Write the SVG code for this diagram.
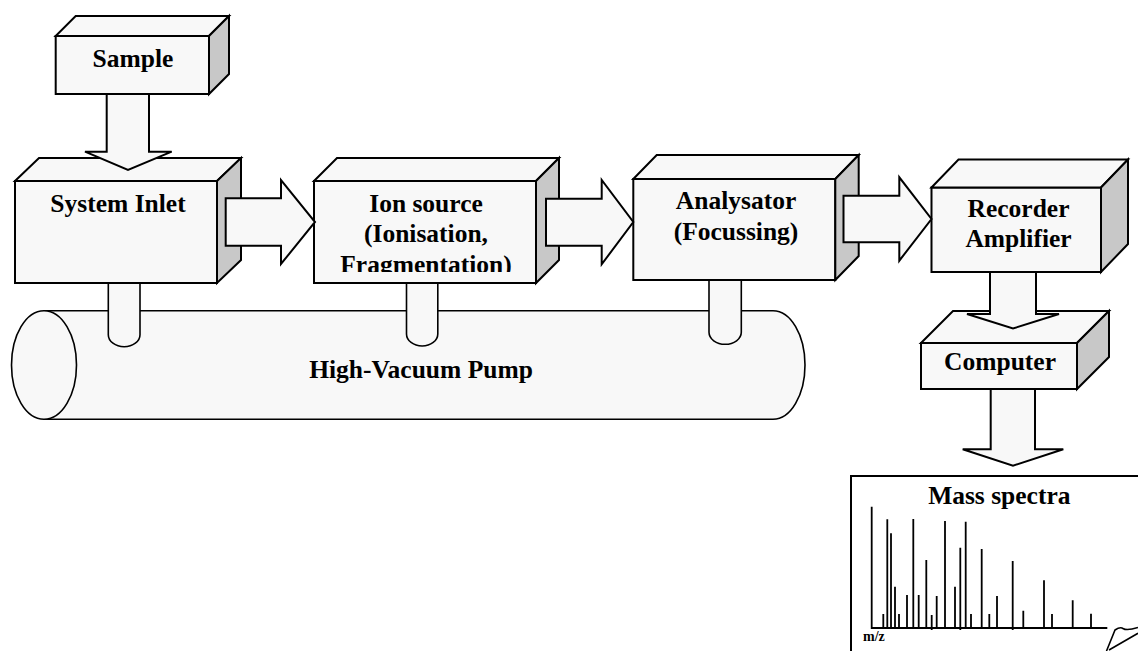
<svg xmlns="http://www.w3.org/2000/svg" width="1138" height="651" viewBox="0 0 1138 651">
<style>
.front{fill:#f8f8f8;stroke:#000;stroke-width:2;stroke-linejoin:miter}
.top{fill:#f8f8f8;stroke:#000;stroke-width:2}
.side{fill:#c8c8c8;stroke:#000;stroke-width:2}
.arrow{fill:#f8f8f8;stroke:#000;stroke-width:2;stroke-linejoin:miter}
.pipe{fill:#f8f8f8;stroke:#000;stroke-width:1.6}
.lbl{font-family:"Liberation Serif","Times New Roman",serif;font-weight:bold;font-size:25.5px;fill:#000;text-anchor:middle}
.peaks{fill:none;stroke:#000;stroke-width:1.8}
</style>
<defs>
<clipPath id="ionclip"><rect x="314" y="181" width="222" height="91"/></clipPath>
</defs>
<rect width="1138" height="651" fill="#fff"/>

<g id="pump">
<path class="pipe" d="M44,310.7 L773,310.7 A32,54.3 0 0 1 773,419.3 L44,419.3 Z"/>
<ellipse class="pipe" cx="44" cy="365" rx="32.5" ry="54.3"/>
<text class="lbl" x="421" y="378">High-Vacuum Pump</text>
</g>

<g id="pipes">
<path class="pipe" d="M108.3,278 V334.7 A15.85,12 0 0 0 140,334.7 V278"/>
<path class="pipe" d="M406.5,278 V334 A15.65,12 0 0 0 437.8,334 V278"/>
<path class="pipe" d="M709,275 V332.3 A16.15,12 0 0 0 741.3,332.3 V275"/>
</g>

<g id="sample">
<rect class="front" x="55.7" y="36" width="153.3" height="58"/>
<polygon class="top" points="55.7,36 75.7,16 229,16 209,36"/>
<polygon class="side" points="209,36 229,16 229,74 209,94"/>
<text class="lbl" x="133" y="67">Sample</text>
</g>

<g id="system-inlet">
<rect class="front" x="15" y="181" width="202" height="102"/>
<polygon class="top" points="15,181 39,158 241,158 217,181"/>
<polygon class="side" points="217,181 241,158 241,260 217,283"/>
<text class="lbl" x="118" y="212">System Inlet</text>
</g>

<g id="ion-source">
<rect class="front" x="314" y="181" width="222" height="102"/>
<polygon class="top" points="314,181 337,158 559,158 536,181"/>
<polygon class="side" points="536,181 559,158 559,260 536,283"/>
<g clip-path="url(#ionclip)">
<text class="lbl" x="426" y="211.7">Ion source</text>
<text class="lbl" x="426" y="241.7">(Ionisation,</text>
<text class="lbl" x="426" y="273">Fragmentation)</text>
</g>
</g>

<g id="analysator">
<rect class="front" x="633.3" y="179" width="202" height="101"/>
<polygon class="top" points="633.3,179 656.7,155 858.7,155 835.3,179"/>
<polygon class="side" points="835.3,179 858.7,155 858.7,256 835.3,280"/>
<text class="lbl" x="736" y="209">Analysator</text>
<text class="lbl" x="736" y="240">(Focussing)</text>
</g>

<g id="recorder-amplifier">
<rect class="front" x="931.5" y="187.5" width="169.5" height="84.5"/>
<polygon class="top" points="931.5,187.5 958.5,159.5 1128,159.5 1101,187.5"/>
<polygon class="side" points="1101,187.5 1128,159.5 1128,244 1101,272"/>
<text class="lbl" x="1018.5" y="217.3">Recorder</text>
<text class="lbl" x="1018.5" y="246.7">Amplifier</text>
</g>

<g id="computer">
<rect class="front" x="921" y="343" width="156" height="46"/>
<polygon class="top" points="921,343 953,311 1109,311 1077,343"/>
<polygon class="side" points="1077,343 1109,311 1109,357 1077,389"/>
<text class="lbl" x="1000" y="370">Computer</text>
</g>

<g id="mass-spectra">
<rect x="851" y="476" width="300" height="200" fill="#fff" stroke="#000" stroke-width="2"/>
<text class="lbl" x="999.3" y="504.3">Mass spectra</text>
<path class="peaks" d="M871.7,506.7 V628 H1107.3
M883.3,614 V628 M887.3,519.3 V628 M891,533.3 V628 M895,586.7 V628 M899,614 V628
M907,595 V628 M913.3,519 V628 M918.7,595 V628 M926.3,560 V628 M931.7,615 V630
M936.7,596 V628 M945,521 V628 M955,586.7 V628 M960.3,547.7 V630 M965.7,521.7 V628
M971,614 V628 M981.7,549 V628 M989.3,614 V628 M997,596 V628 M1012.7,561 V630
M1023.3,610.7 V628 M1044,580.3 V628 M1052,614 V628 M1072.7,600.3 V628 M1091,613.7 V628"/>
<text x="863" y="640.7" font-family="'Liberation Serif','Times New Roman',serif" font-weight="bold" font-size="14" fill="#000">m/z</text>
<path d="M1106.5,651 L1115,630 C1118,628 1121,627 1123,628.5 C1126,630.5 1130,630 1138,627.5 M1109,650 L1138,633.3" fill="none" stroke="#000" stroke-width="1.6"/>
</g>

<g id="connectors">
<polygon class="arrow" points="106.7,94 149,94 149,151.7 171.7,151.7 128,170 85,151.7 106.7,151.7"/>
<polygon class="arrow" points="225.7,198.3 281,198.3 281,180 315,222 281,264 281,245.7 225.7,245.7"/>
<polygon class="arrow" points="546,198.7 601.7,198.7 601.7,180 633.3,222 601.7,264.3 601.7,245.7 546,245.7"/>
<polygon class="arrow" points="843.5,195.7 899.3,195.7 899.3,177.3 931.5,219 899.3,260.7 899.3,242.3 843.5,242.3"/>
<polygon class="arrow" points="990,272 1036,272 1036,314 1059,314 1013,328.5 967,314 990,314"/>
<polygon class="arrow" points="990.7,389 1035,389 1035,449.3 1063.3,449.3 1013,465.7 962.7,449.3 990.7,449.3"/>
</g>
</svg>
